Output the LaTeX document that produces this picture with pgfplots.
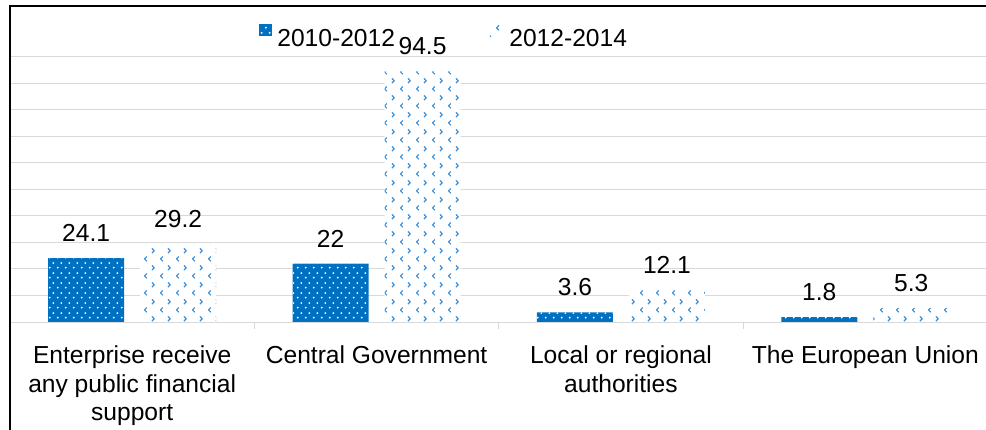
\documentclass[border=0pt]{standalone}
\usepackage{pgfplots}
\pgfplotsset{compat=1.18}
\usepackage{fontspec}
\setmainfont{Liberation Sans}
\usetikzlibrary{patterns}
\definecolor{cblue}{HTML}{0070C0}
\definecolor{clight}{HTML}{3A8DD6}
\definecolor{cgrid}{HTML}{D9D9D9}
\pgfdeclarepatternformonly{wdots}{\pgfpointorigin}{\pgfpoint{4bp}{5bp}}{\pgfpoint{4bp}{5bp}}{%
  \pgfpathcircle{\pgfpoint{1bp}{1.25bp}}{0.55bp}%
  \pgfpathcircle{\pgfpoint{3bp}{3.75bp}}{0.55bp}%
  \pgfusepath{fill}}
\pgfdeclarepatternformonly{chev}{\pgfpointorigin}{\pgfpoint{8bp}{8.3bp}}{\pgfpoint{8bp}{8.3bp}}{%
  \pgfsetlinewidth{0.6bp}%
  \pgfpathmoveto{\pgfpoint{4.2bp}{7.45bp}}\pgfpathlineto{\pgfpoint{5.4bp}{6.25bp}}\pgfpathlineto{\pgfpoint{4.2bp}{5.05bp}}%
  \pgfpathmoveto{\pgfpoint{1.5bp}{3.3bp}}\pgfpathlineto{\pgfpoint{0.3bp}{2.1bp}}\pgfpathlineto{\pgfpoint{1.5bp}{0.9bp}}%
  \pgfusepath{stroke}}
\begin{document}
\begin{tikzpicture}
\useasboundingbox (0,0) rectangle (493bp,215bp);
\begin{axis}[
  at={(5bp,54bp)}, anchor=south west,
  scale only axis, width=488.75bp, height=132.65bp,
  ybar=8bp, bar width=38bp,
  xmin=-0.5, xmax=3.5, ymin=0, ymax=100,
  xtick={0,1,2,3},
  xticklabels={Enterprise receive\\any public financial\\support, Central Government, Local or regional\\authorities, The European Union},
  x tick label style={align=center, font=\fontsize{12.3bp}{14.2bp}\selectfont, inner sep=0pt, yshift=-7.5bp},
  major x tick style={draw=none},
  extra x ticks={0.5,1.5,2.5}, extra x tick labels={},
  extra x tick style={tick align=outside, major tick length=3.5bp, major x tick style={draw=cgrid, line width=0.5bp}},
  ytick={10,20,...,100}, yticklabels={},
  ymajorgrids, grid style={cgrid, line width=0.5bp},
  major y tick style={draw=none},
  axis lines*=left,
  x axis line style={cgrid, line width=0.5bp, -},
  y axis line style={draw=none},
  nodes near coords,
  every node near coord/.append style={font=\fontsize{12.3bp}{14bp}\selectfont, black, anchor=south, inner sep=0pt, yshift=8bp},
  /pgf/number format/assume math mode=true,
  legend columns=2,
  legend style={at={(0.2547,1.0765)}, anchor=west, draw=none, fill=none, inner sep=0pt, column sep=0pt, row sep=0pt, nodes={inner sep=0pt}, font=\fontsize{12.3bp}{14bp}\selectfont},
  legend image code/.code={\path[#1, draw=none] (0bp,1.35bp) rectangle (6.25bp,7.6bp);},
]
\addplot[draw=none, fill=cblue, postaction={pattern=wdots, pattern color=white}]
  coordinates {(0,24.1) (1,22) (2,3.6) (3,1.8)};
\addplot[draw=none, fill=white, postaction={pattern=chev, pattern color=clight}]
  coordinates {(0,29.2) (1,94.5) (2,12.1) (3,5.3)};
\legend{\makebox[109bp][l]{\hspace*{2.75bp}2010-2012}, \makebox[60bp][l]{\hspace*{3.5bp}2012-2014}}
\end{axis}
\draw[line width=1bp, black] (5bp,-2bp) -- (5bp,212bp) -- (495bp,212bp);
\end{tikzpicture}
\end{document}
